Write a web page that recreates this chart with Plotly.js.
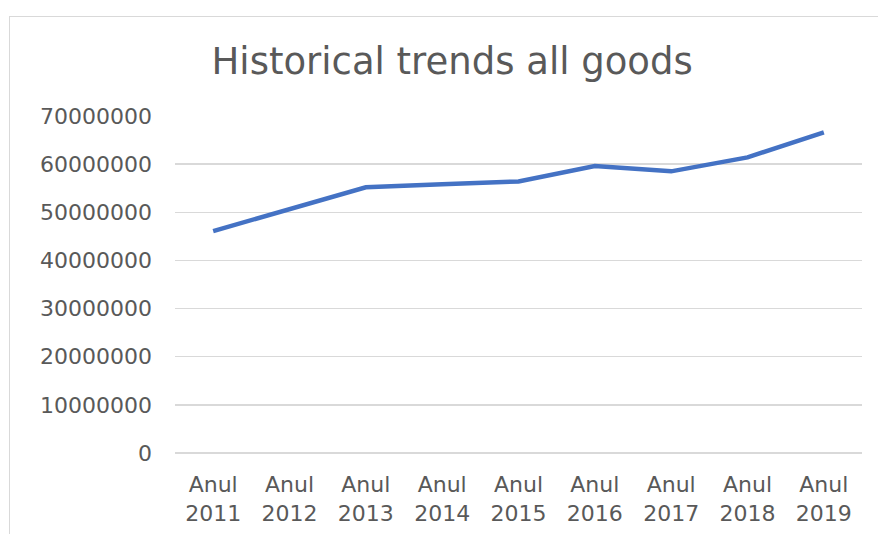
<!DOCTYPE html>
<html>
<head>
<meta charset="utf-8">
<script src="https://cdn.plot.ly/plotly-3.0.1.min.js"></script>
<style>
  html, body { margin: 0; padding: 0; width: 878px; height: 534px; overflow: hidden; background: #fff; }
  #chart { position: absolute; left: 0; top: 0; width: 878px; height: 534px; }
  #frame { position: absolute; left: 9px; top: 16px; width: 1000px; height: 1000px;
           border: 1.5px solid #d9d9d9; pointer-events: none; box-sizing: border-box; }
</style>
</head>
<body>
<div id="chart"></div>
<div id="frame"></div>
<script>
const years = ["2011", "2012", "2013", "2014", "2015", "2016", "2017", "2018", "2019"];
const categories = years.map(y => "Anul<br>" + y);
const values = [46100000, 50700000, 55200000, 55800000, 56400000, 59600000, 58500000, 61400000, 66600000];
const yTicks = [0, 10000000, 20000000, 30000000, 40000000, 50000000, 60000000, 70000000];
const yTickText = yTicks.map(v => String(v));

const font = "DejaVu Sans, Open Sans, sans-serif";
const grey = "#595959";

Plotly.newPlot("chart", [{
  type: "scatter",
  mode: "lines",
  x: categories,
  y: values,
  line: { color: "#4472C4", width: 4.5 },
  hoverinfo: "skip"
}], {
  width: 878,
  height: 534,
  margin: { l: 175, r: 16, t: 116, b: 81 },
  paper_bgcolor: "#fff",
  plot_bgcolor: "#fff",
  showlegend: false,
  title: {
    text: "Historical trends all goods",
    font: { family: font, size: 37, color: grey },
    xref: "container", x: 0.515, xanchor: "center",
    yref: "container", y: 0.885, yanchor: "middle"
  },
  xaxis: {
    type: "category",
    range: [-0.5, 8.5],
    showgrid: false,
    showline: false,
    zeroline: false,
    ticks: "",
    tickfont: { family: font, size: 22, color: grey },
    ticklabelstandoff: 16
  },
  yaxis: {
    range: [0, 70000000],
    tickvals: yTicks,
    ticktext: yTickText,
    showgrid: true,
    gridcolor: "#d9d9d9",
    gridwidth: 1.5,
    zeroline: true,
    zerolinecolor: "#d9d9d9",
    zerolinewidth: 1.5,
    showline: false,
    ticks: "",
    tickfont: { family: font, size: 22, color: grey },
    ticklabelstandoff: 22
  }
}, { displayModeBar: false, staticPlot: true });
</script>
</body>
</html>
